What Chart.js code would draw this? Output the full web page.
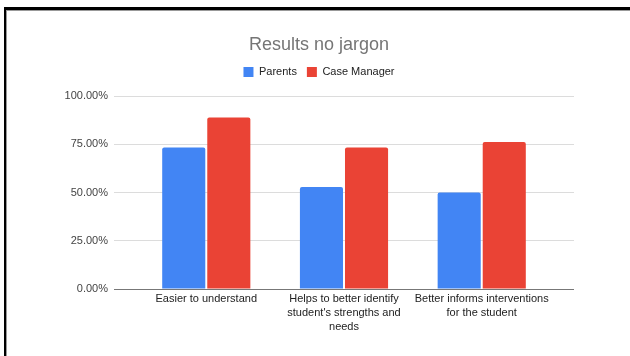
<!DOCTYPE html>
<html>
<head>
<meta charset="utf-8">
<script src="https://cdn.jsdelivr.net/npm/chart.js@4"></script>
<style>
  html, body { margin: 0; padding: 0; background: #fff; }
  #wrap { position: relative; width: 630px; height: 356px; overflow: hidden; }
  #chart { position: absolute; left: 0; top: 0; }
  /* cadre noir de la capture */
  #frame {
    position: absolute; left: 4px; top: 7px; right: -10px; bottom: -10px;
    border-top: 3px solid #000; border-left: 2px solid #000;
    box-shadow: inset 1px 1px 0 #999;
    pointer-events: none;
  }
</style>
</head>
<body>
<div id="wrap">
  <canvas id="chart" width="630" height="356"></canvas>
  <div id="frame"></div>
</div>
<script>
// Données du graphique
const categories = [
    ['Easier to understand'],
    ['Helps to better identify', "student's strengths and", 'needs'],
    ['Better informs interventions', 'for the student']
];
const parents = [73.3, 52.9, 50.0];
const caseManager = [88.9, 73.3, 76.2];
const yTicks = [0, 25, 50, 75, 100];

const font = "'Liberation Sans', Arial, sans-serif";

// Ajouter un peu d'espace sous la légende
const legendGap = {
    id: 'legendGap',
    beforeInit(chart) {
        const fit = chart.legend.fit;
        chart.legend.fit = function () {
            fit.bind(chart.legend)();
            this.height += 8.5;
        };
    }
};

function toPoints(values) {
    return values.map((v, i) => ({ x: i, y: v }));
}

new Chart(document.getElementById('chart'), {
    type: 'bar',
    data: {
        datasets: [{
            label: 'Parents',
            data: toPoints(parents),
            backgroundColor: '#4285F4',
            borderRadius: 2,
            borderSkipped: 'bottom'
        }, {
            label: 'Case Manager',
            data: toPoints(caseManager),
            backgroundColor: '#EA4335',
            borderRadius: 2,
            borderSkipped: 'bottom'
        }]
    },
    options: {
        responsive: false,
        animation: false,
        devicePixelRatio: 1,
        categoryPercentage: 0.6545,
        barPercentage: 0.956,
        layout: { padding: { left: 64, right: 56, top: 0, bottom: 0 } },
        plugins: {
            tooltip: { enabled: false },
            title: {
                display: true,
                text: 'Results no jargon',
                color: '#757575',
                font: { family: font, size: 18, weight: 'normal' },
                padding: { top: 34, bottom: 1 }
            },
            legend: {
                display: true,
                position: 'top',
                labels: {
                    boxWidth: 10,
                    boxHeight: 10,
                    padding: 10,
                    color: '#222',
                    font: { family: font, size: 11 }
                }
            }
        },
        scales: {
            x: {
                type: 'linear',
                offset: false,
                bounds: 'data',
                min: -0.67,
                max: 2.67,
                afterDataLimits: scale => {
                    scale.min = -0.67;
                    scale.max = 2.67;
                },
                afterBuildTicks: scale => {
                    scale.ticks = categories.map((c, i) => ({ value: i }));
                    scale.min = -0.67;
                    scale.max = 2.67;
                },
                afterFit: scale => { scale.height = 67; },
                grid: { display: false, drawTicks: false, offset: false },
                border: { display: false },
                ticks: {
                    autoSkip: false,
                    maxRotation: 0,
                    padding: 3,
                    color: '#222',
                    font: { family: font, size: 11, lineHeight: 1.27 },
                    callback: (v) => categories[v]
                }
            },
            y: {
                min: 0,
                max: 100,
                afterBuildTicks: scale => {
                    scale.ticks = yTicks.map(v => ({ value: v }));
                },
                afterFit: scale => { scale.width = 50; },
                grid: {
                    drawTicks: false,
                    color: ctx => ctx.tick && ctx.tick.value === 0 ? '#777' : '#dcdcdc',
                    lineWidth: 1
                },
                border: { display: false },
                ticks: {
                    padding: 6,
                    color: '#444',
                    font: { family: font, size: 11 },
                    callback: v => v.toFixed(2) + '%'
                }
            }
        }
    },
    plugins: [legendGap]
});
</script>
</body>
</html>
